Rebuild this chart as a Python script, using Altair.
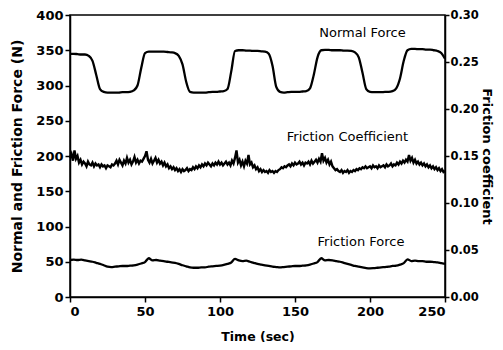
import altair as alt
import pandas as pd

# ---- data ----
time_force = [i * 2.5 for i in range(101)]

normal_force = [
    345, 345, 344.5, 344, 344, 342, 335, 315, 295, 291,
    290, 290, 290, 290, 290.5, 290.5, 291, 293, 300, 325,
    346, 348, 348, 348, 348, 348, 347.5, 347, 346, 342,
    330, 305, 291, 290, 290, 290, 290, 290.5, 291, 291,
    291.5, 292, 295, 320, 349, 350, 350, 349.5, 349.5, 349,
    349, 348.5, 348, 345, 328, 298, 291, 290, 290.5, 291,
    291, 291, 291.5, 292, 296, 315, 340, 350, 350.5, 350.5,
    350, 350, 350, 349.5, 349.5, 349, 347, 340, 318, 295,
    291, 290.5, 290.5, 290.5, 291, 291, 292, 296, 310, 335,
    350, 352, 352, 351.5, 351.5, 351, 351, 350, 349, 346,
    338,
]

friction_force = [
    52.5, 53, 52.5, 53, 52, 51, 50, 48.5, 47, 45,
    43, 42.5, 43, 43.5, 44, 44, 44.5, 45, 46, 47.5,
    49.5, 55, 52, 52.5, 51.5, 51, 50, 49, 48.5, 47,
    45, 43.5, 42, 41.5, 41.5, 42, 42, 43, 43.5, 44,
    44.5, 45.5, 47, 49, 54, 52, 51, 51.5, 50, 48.5,
    47, 46, 45, 44, 43, 42.5, 42, 42.5, 43, 43.5,
    44, 44, 44.5, 45, 46, 47.5, 49.5, 55, 52, 52.5,
    52, 51, 50, 48.5, 47, 45.5, 44, 43, 42, 41,
    40.7, 41, 41.5, 42, 42.5, 43, 44, 44.5, 46, 48,
    53.5, 51, 51.5, 51, 51, 50, 50, 49.5, 49, 48,
    47,
]

time_coef = list(range(251))

friction_coef = [
    0.148, 0.152, 0.145, 0.156, 0.147, 0.150, 0.143, 0.146, 0.141, 0.144,
    0.142, 0.139, 0.144, 0.141, 0.140, 0.143, 0.139, 0.142, 0.140, 0.141,
    0.138, 0.141, 0.139, 0.140, 0.137, 0.140, 0.139, 0.138, 0.141, 0.140,
    0.142, 0.145, 0.141, 0.146, 0.143, 0.140, 0.145, 0.142, 0.148, 0.143,
    0.146, 0.141, 0.144, 0.149, 0.143, 0.146, 0.142, 0.145, 0.144, 0.147,
    0.150, 0.155, 0.146, 0.143, 0.147, 0.142, 0.145, 0.148, 0.143, 0.146,
    0.142, 0.144, 0.140, 0.143, 0.139, 0.141, 0.137, 0.139, 0.136, 0.138,
    0.135, 0.137, 0.134, 0.136, 0.133, 0.136, 0.134, 0.135, 0.137, 0.134,
    0.136, 0.135, 0.138, 0.136, 0.139, 0.137, 0.140, 0.138, 0.141, 0.139,
    0.142, 0.140, 0.143, 0.141, 0.139, 0.142, 0.140, 0.143, 0.141, 0.144,
    0.141, 0.143, 0.140, 0.142, 0.144, 0.141, 0.143, 0.140, 0.145, 0.142,
    0.148, 0.156, 0.143, 0.146, 0.140, 0.144, 0.139, 0.145, 0.142, 0.151,
    0.141, 0.143, 0.138, 0.140, 0.136, 0.138, 0.134, 0.136, 0.133, 0.135,
    0.133, 0.134, 0.132, 0.135, 0.133, 0.134, 0.132, 0.134, 0.133, 0.135,
    0.136, 0.138, 0.137, 0.139, 0.138, 0.140, 0.141, 0.139, 0.142, 0.140,
    0.143, 0.141, 0.142, 0.144, 0.141, 0.143, 0.140, 0.143, 0.142, 0.144,
    0.141, 0.145, 0.142, 0.144, 0.146, 0.143, 0.147, 0.144, 0.153, 0.145,
    0.148, 0.143, 0.146, 0.141, 0.144, 0.139, 0.137, 0.135, 0.136, 0.134,
    0.133, 0.135, 0.132, 0.134, 0.133, 0.135, 0.132, 0.134, 0.133, 0.135,
    0.134, 0.136, 0.135, 0.137, 0.136, 0.138, 0.137, 0.139, 0.137, 0.138,
    0.139, 0.137, 0.140, 0.138, 0.139, 0.137, 0.140, 0.138, 0.139, 0.140,
    0.138, 0.141, 0.139, 0.140, 0.142, 0.139, 0.141, 0.140, 0.143, 0.141,
    0.144, 0.142, 0.145, 0.143, 0.146, 0.144, 0.151, 0.145, 0.148, 0.143,
    0.146, 0.142, 0.144, 0.141, 0.143, 0.140, 0.142, 0.139, 0.141, 0.138,
    0.140, 0.137, 0.139, 0.136, 0.138, 0.135, 0.137, 0.134, 0.136, 0.133,
    0.134,
]

label_text = ["Normal Force", "Friction Coefficient", "Friction Force"]
label_time = [195, 185, 194]
label_value = [374, 227, 78]

x_ticks = [0, 50, 100, 150, 200, 250]
left_ticks = [0, 50, 100, 150, 200, 250, 300, 350, 400]
right_ticks = [0.0, 0.05, 0.10, 0.15, 0.20, 0.25, 0.30]

# ---- tables ----
forces = pd.DataFrame({
    "t": time_force * 2,
    "v": normal_force + friction_force,
    "series": ["Normal Force"] * len(time_force) + ["Friction Force"] * len(time_force),
})
coef = pd.DataFrame({"t": time_coef, "c": friction_coef})
labels = pd.DataFrame({"t": label_time, "v": label_value, "txt": label_text})

FONT = "DejaVu Sans"

x_scale = alt.Scale(domain=[0, 250], nice=False, zero=False)
x_axis = alt.Axis(values=x_ticks, title="Time (sec)", titleFontSize=12.5,
                  labelFontSize=13, labelPadding=3, titlePadding=12, tickSize=5,
                  labelOverlap=False)
left_scale = alt.Scale(domain=[0, 400], nice=False)
left_axis = alt.Axis(values=left_ticks, title="Normal and Friction Force (N)",
                     titleFontSize=14, labelFontSize=13, labelPadding=2,
                     titlePadding=11, tickSize=5, labelOverlap=False)

left_lines = alt.Chart(forces).mark_line(
    color="black", strokeWidth=2.3, interpolate="monotone"
).encode(
    x=alt.X("t:Q", scale=x_scale, axis=x_axis),
    y=alt.Y("v:Q", scale=left_scale, axis=left_axis),
    detail="series:N",
)

text_layer = alt.Chart(labels).mark_text(
    font=FONT, fontSize=13, fontWeight="normal", color="black"
).encode(
    x=alt.X("t:Q", scale=x_scale, axis=x_axis),
    y=alt.Y("v:Q", scale=left_scale, axis=left_axis),
    text="txt:N",
)

left = alt.layer(left_lines, text_layer)

right = alt.Chart(coef).mark_line(color="black", strokeWidth=2.4).encode(
    x=alt.X("t:Q", scale=x_scale, axis=x_axis),
    y=alt.Y("c:Q", scale=alt.Scale(domain=[0, 0.30], nice=False),
            axis=alt.Axis(orient="right", values=right_ticks, format=".2f",
                          title="Friction coefficient", titleFontSize=13,
                          titleAngle=90, labelFontSize=11.5, labelPadding=1,
                          titlePadding=1, tickSize=4, labelOverlap=False)),
)

chart = alt.layer(left, right).resolve_scale(y="independent").properties(
    width=375,
    height=282,
    autosize=alt.AutoSizeParams(type="none"),
    padding={"left": 62, "top": 7, "right": 50, "bottom": 45},
).configure(font=FONT).configure_axis(
    grid=False,
    domainColor="black",
    domainWidth=1.5,
    tickColor="black",
    tickWidth=1.5,
    labelColor="black",
    titleColor="black",
    labelFont=FONT,
    titleFont=FONT,
    labelFontWeight="bold",
    titleFontWeight="bold",
).configure_view(stroke="black", strokeWidth=1.5)

chart.save("out.html", embed_options={"renderer": "svg", "actions": False})
